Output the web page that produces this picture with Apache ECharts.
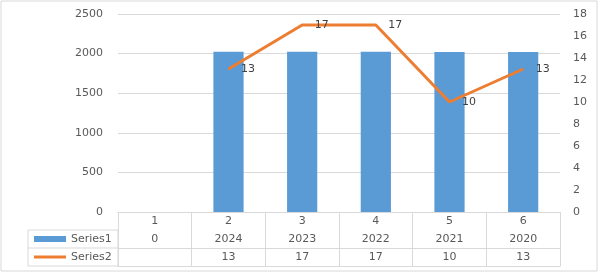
<!DOCTYPE html>
<html>
<head>
<meta charset="utf-8">
<script src="https://cdn.jsdelivr.net/npm/echarts@6/dist/echarts.min.js"></script>
<style>
  html, body { margin: 0; padding: 0; background: #fff; }
  #chart { width: 600px; height: 273px; }
</style>
</head>
<body>
<div id="chart"></div>
<script>
// chart data
const categories = ["1", "2", "3", "4", "5", "6"];
const series1 = [0, 2024, 2023, 2022, 2021, 2020];
const series2 = [null, 13, 17, 17, 10, 13];
const leftTicks = { min: 0, max: 2500, interval: 500 };
const rightTicks = { min: 0, max: 18, interval: 2 };

const gridColor = "#d9d9d9";
const textColor = "#595959";
const font = "DejaVu Sans";

const chart = echarts.init(document.getElementById("chart"));

// one x axis per table row, stacked under the plot
function tableAxis(offset, values, showTicks) {
  return {
    type: "category",
    data: categories,
    position: "bottom",
    offset: offset,
    axisLine: { show: true, lineStyle: { color: gridColor, width: 1 } },
    axisTick: { show: showTicks, interval: 0, length: 54, lineStyle: { color: gridColor } },
    axisLabel: {
      show: values !== null,
      interval: 0,
      margin: 4,
      color: textColor,
      fontFamily: font,
      fontSize: 11,
      formatter: function (v, i) {
        if (!values) return "";
        const x = values[i];
        return x === null || x === undefined ? "" : String(x);
      }
    },
    splitLine: { show: false }
  };
}

// legend key in the table's left column
function rowLegend(name, icon, top) {
  return {
    left: 34,
    top: top,
    padding: 0,
    itemWidth: 32,
    itemHeight: 6,
    textStyle: { color: textColor, fontSize: 11, lineHeight: 14, fontFamily: font },
    data: [{ name: name, icon: icon }]
  };
}

chart.setOption({
  animation: false,
  textStyle: { fontFamily: font },
  grid: { left: 118, right: 40, top: 14, bottom: 61, containLabel: false },
  legend: [
    rowLegend("Series1", "rect", 232),
    rowLegend("Series2", "path://M0,0H32V3H0Z", 250)
  ],
  xAxis: [
    tableAxis(0, categories, true),
    tableAxis(18, series1, false),
    tableAxis(36, series2, false),
    tableAxis(54, null, false)
  ],
  yAxis: [
    {
      type: "value",
      min: leftTicks.min,
      max: leftTicks.max,
      interval: leftTicks.interval,
      axisLine: { show: false },
      axisTick: { show: false },
      axisLabel: {
        color: textColor, fontSize: 11, margin: 15, fontFamily: font,
        formatter: function (v) { return String(v); }
      },
      splitLine: { lineStyle: { color: gridColor } }
    },
    {
      type: "value",
      position: "right",
      min: rightTicks.min,
      max: rightTicks.max,
      interval: rightTicks.interval,
      axisLine: { show: false },
      axisTick: { show: false },
      axisLabel: { color: textColor, fontSize: 11, margin: 13, fontFamily: font },
      splitLine: { show: false }
    }
  ],
  graphic: [
    {
      type: "rect",
      shape: { x: 1, y: 1, width: 596, height: 270 },
      style: { fill: "none", stroke: gridColor },
      silent: true
    },
    {
      type: "rect",
      shape: { x: 28, y: 230, width: 90, height: 36 },
      style: { fill: "none", stroke: gridColor },
      silent: true
    },
    {
      type: "line",
      shape: { x1: 28, y1: 248, x2: 118, y2: 248 },
      style: { stroke: gridColor },
      silent: true
    }
  ],
  series: [
    {
      name: "Series1",
      type: "bar",
      data: series1,
      barWidth: "41%",
      itemStyle: { color: "#5b9bd5" }
    },
    {
      name: "Series2",
      type: "line",
      yAxisIndex: 1,
      data: series2,
      symbol: "circle",
      symbolSize: 1,
      lineStyle: { color: "#ed7d31", width: 3 },
      itemStyle: { color: "#ed7d31" },
      label: {
        show: true,
        position: "right",
        distance: 12,
        color: "#404040",
        fontSize: 11,
        fontFamily: font
      }
    }
  ]
});
</script>
</body>
</html>
